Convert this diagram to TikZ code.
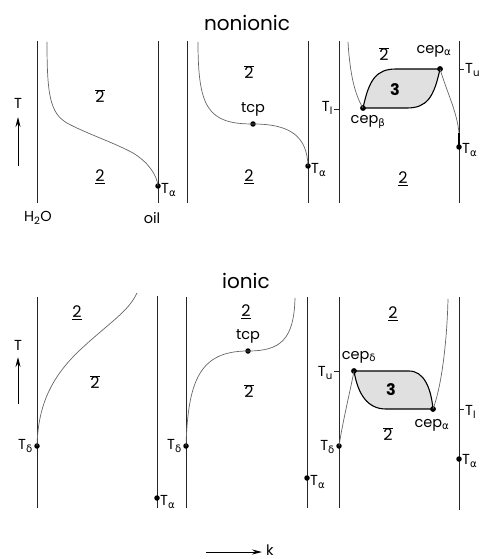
\documentclass[tikz,border=0pt]{standalone}
\usepackage{fontspec}
\setmainfont{Poppins}[Scale=1]
\newfontfamily\gr{DejaVu Sans}
\usetikzlibrary{arrows.meta}
\newcommand{\Tsub}[1]{T\textsubscript{\gr #1}}
\newcommand{\cepsub}[1]{cep\textsubscript{\gr #1}}
\newcommand{\twobar}{$\overline{\mbox{2}}$}
\newcommand{\twounder}{\underline{2}}
\begin{document}
\begin{tikzpicture}[x=1pt,y=-1pt,
  wall/.style={line width=0.9pt, draw=black!85},
  phase/.style={line width=0.7pt, draw=black!60},
  dot/.style={circle, fill=black, inner sep=0pt, minimum size=5.5pt},
  lbl/.style={font=\fontsize{14.5}{14.5}\selectfont, inner sep=1pt},
  reg/.style={font=\fontsize{16}{16}\selectfont, inner sep=0pt},
  ttl/.style={font=\fontsize{20}{20}\selectfont, inner sep=0pt},
  three/.style={fill=black!12, draw=black, line width=1.1pt},
  tick/.style={line width=0.7pt, draw=black!85},
  axis/.style={line width=0.9pt, -{Stealth[length=10pt,width=5pt]}}
]
\useasboundingbox (0,0) rectangle (482,559);

% ---------- titles ----------
\node[ttl] (tnon) at (247,23) {nonionic};
\node[ttl] (tion) at (246,281) {ionic};

% ---------- nonionic panel 1 ----------
\coordinate (n1wt) at (37,41); \coordinate (n1wb) at (37,203);
\coordinate (n1ot) at (158,41); \coordinate (n1ob) at (158,203);
\draw[wall] (n1wt) -- (n1wb);
\draw[wall] (n1ot) -- (n1ob);
\node[dot] (n1a) at (158,186) {};
\coordinate (n1s) at (47,42);
\draw[phase] (n1s) .. controls (47,95) and (50,113) .. (67,123)
  .. controls (85,133) and (115,143) .. (133,153)
  .. controls (148,162) and (157,175) .. (n1a.center);
\node[lbl, anchor=west] (n1al) at (160,190) {\Tsub{α}};
\node[reg] (n1r1) at (100,96) {\twobar};
\node[reg] (n1r2) at (100,177) {\twounder};
\node[lbl] (h2o) at (38,218) {H\textsubscript{2}O};
\node[lbl] (oil) at (152,218) {oil};
\node[lbl] (n1T) at (18,103) {T};
\coordinate (n1ax0) at (18,166); \coordinate (n1ax1) at (18,117);
\draw[axis] (n1ax0) -- (n1ax1);

% ---------- nonionic panel 2 ----------
\coordinate (n2lt) at (187,41); \coordinate (n2lb) at (187,203);
\coordinate (n2rt) at (308,41); \coordinate (n2rb) at (308,203);
\draw[wall] (n2lt) -- (n2lb);
\draw[wall] (n2rt) -- (n2rb);
\node[dot] (n2tcp) at (253,124) {};
\node[dot] (n2a) at (308,166) {};
\coordinate (n2s) at (198,42);
\draw[phase] (n2s) .. controls (198,108) and (208,124) .. (n2tcp.center)
  .. controls (290,124) and (307,136) .. (n2a.center);
\node[lbl] (n2tcpl) at (253,109) {tcp};
\node[lbl, anchor=west] (n2al) at (310,170) {\Tsub{α}};
\node[reg] (n2r1) at (249,72) {\twobar};
\node[reg] (n2r2) at (249,177) {\twounder};

% ---------- nonionic panel 3 ----------
\coordinate (n3lt) at (339,41); \coordinate (n3lb) at (339,203);
\coordinate (n3rt) at (459,41); \coordinate (n3rb) at (459,203);
\draw[wall] (n3lt) -- (n3lb);
\draw[wall] (n3rt) -- (n3rb);
\node[dot] (n3cb) at (363,108) {};
\node[dot] (n3ca) at (440,69) {};
\node[dot] (n3a) at (459,147) {};
\filldraw[three] (n3cb.center) .. controls (369,80) and (376,69) .. (396,69)
  -- (n3ca.center) .. controls (434,97) and (427,108) .. (407,108) -- cycle;
\node[dot] at (n3cb) {};
\node[dot] at (n3ca) {};
\coordinate (n3s) at (348,42);
\draw[phase] (n3s) .. controls (350,75) and (355,95) .. (n3cb.center);
\coordinate (n3m) at (459,133);
\draw[phase] (n3ca.center) .. controls (448,95) and (457,112) .. (n3m);
\draw[line width=1.3pt] (n3m) -- (n3a.center);
\coordinate (n3tl) at (334,109); \coordinate (n3tl2) at (339,109);
\draw[tick] (n3tl) -- (n3tl2);
\coordinate (n3tu) at (459,69); \coordinate (n3tu2) at (464,69);
\draw[tick] (n3tu) -- (n3tu2);
\node[lbl, anchor=east] (n3tll) at (334,108) {T\textsubscript{l}};
\node[lbl, anchor=west] (n3tul) at (464,70) {T\textsubscript{u}};
\node[lbl, anchor=west] (n3al) at (461,150) {\Tsub{α}};
\node[lbl] (n3cal) at (434,51) {\cepsub{α}};
\node[lbl] (n3cbl) at (368,122) {\cepsub{β}};
\node[reg] (n3r1) at (384,54) {\twobar};
\node[reg, font=\fontsize{16}{16}\selectfont\bfseries] (n3r3) at (395,90) {3};
\node[reg] (n3r2) at (403,179) {\twounder};

% ---------- ionic panel 1 ----------
\coordinate (i1lt) at (37,297); \coordinate (i1lb) at (37,508);
\coordinate (i1rt) at (157,296); \coordinate (i1rb) at (157,508);
\draw[wall] (i1lt) -- (i1lb);
\draw[wall] (i1rt) -- (i1rb);
\node[dot] (i1d) at (37,446) {};
\node[dot] (i1a) at (157,498) {};
\coordinate (i1e) at (137,293);
\draw[phase] (i1d.center) .. controls (38,410) and (48,380) .. (80,350)
  .. controls (110,322) and (128,312) .. (i1e);
\node[lbl, anchor=east] (i1dl) at (34,446) {\Tsub{δ}};
\node[lbl, anchor=west] (i1al) at (159,502) {\Tsub{α}};
\node[reg] (i1r2) at (77,313) {\twounder};
\node[reg] (i1r1) at (95,382) {\twobar};
\node[lbl] (i1T) at (18,345) {T};
\coordinate (i1ax0) at (18,404); \coordinate (i1ax1) at (18,357);
\draw[axis] (i1ax0) -- (i1ax1);

% ---------- ionic panel 2 ----------
\coordinate (i2lt) at (186,297); \coordinate (i2lb) at (186,508);
\coordinate (i2rt) at (307,297); \coordinate (i2rb) at (307,508);
\draw[wall] (i2lt) -- (i2lb);
\draw[wall] (i2rt) -- (i2rb);
\node[dot] (i2d) at (186,446) {};
\node[dot] (i2tcp) at (248,351) {};
\node[dot] (i2a) at (307,478) {};
\coordinate (i2e) at (295,298);
\draw[phase] (i2d.center) .. controls (188,380) and (200,351) .. (i2tcp.center)
  .. controls (280,351) and (294,340) .. (i2e);
\node[lbl, anchor=east] (i2dl) at (183,446) {\Tsub{δ}};
\node[lbl, anchor=west] (i2al) at (309,482) {\Tsub{α}};
\node[lbl] (i2tcpl) at (248,336) {tcp};
\node[reg] (i2r2) at (246,312) {\twounder};
\node[reg] (i2r1) at (249,391) {\twobar};

% ---------- ionic panel 3 ----------
\coordinate (i3lt) at (339,297); \coordinate (i3lb) at (339,508);
\coordinate (i3rt) at (459,297); \coordinate (i3rb) at (459,510);
\draw[wall] (i3lt) -- (i3lb);
\draw[wall] (i3rt) -- (i3rb);
\node[dot] (i3d) at (339,446) {};
\node[dot] (i3cd) at (354,371) {};
\node[dot] (i3ca) at (433,409) {};
\node[dot] (i3a) at (459,459) {};
\filldraw[three] (i3cd.center) -- (409,371) .. controls (424,371) and (431,388) .. (i3ca.center)
  -- (386,409) .. controls (368,409) and (358,395) .. cycle;
\node[dot] at (i3cd) {};
\node[dot] at (i3ca) {};
\draw[phase] (i3d.center) .. controls (343,420) and (350,392) .. (i3cd.center);
\coordinate (i3e) at (448,299);
\draw[phase] (i3ca.center) .. controls (442,385) and (447,340) .. (i3e);
\coordinate (i3tu) at (334,371); \coordinate (i3tu2) at (339,371);
\draw[tick] (i3tu) -- (i3tu2);
\coordinate (i3tl) at (459,409); \coordinate (i3tl2) at (464,409);
\draw[tick] (i3tl) -- (i3tl2);
\node[lbl, anchor=east] (i3tul) at (334,373) {T\textsubscript{u}};
\node[lbl, anchor=west] (i3tll) at (464,412) {T\textsubscript{l}};
\node[lbl, anchor=east] (i3dl) at (336,447) {\Tsub{δ}};
\node[lbl, anchor=west] (i3al) at (461,461) {\Tsub{α}};
\node[lbl] (i3cdl) at (359,357) {\cepsub{δ}};
\node[lbl] (i3cal) at (432,425) {\cepsub{α}};
\node[reg] (i3r2) at (393,314) {\twounder};
\node[reg, font=\fontsize{16}{16}\selectfont\bfseries] (i3r3) at (391,390) {3};
\node[reg] (i3r1) at (388,434) {\twobar};

% ---------- k axis ----------
\coordinate (k0) at (206,552); \coordinate (k1) at (262,552);
\draw[axis] (k0) -- (k1);
\node[lbl, anchor=west] (kl) at (265,550) {k};
\end{tikzpicture}
\end{document}
